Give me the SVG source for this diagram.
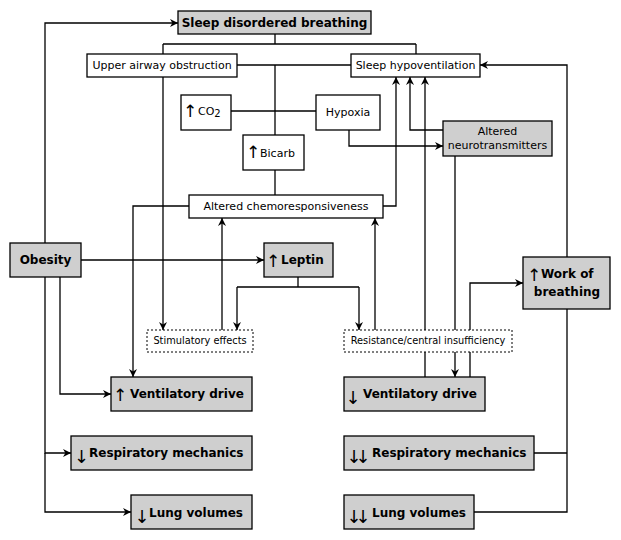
<svg xmlns="http://www.w3.org/2000/svg" width="621" height="540" viewBox="0 0 621 540">
<defs>
<marker id="ah" viewBox="0 0 10 10" refX="10" refY="5" markerWidth="9" markerHeight="8" markerUnits="userSpaceOnUse" orient="auto">
<path d="M0,0 L10,5 L0,10 L3,5 z" fill="#000"/>
</marker>
<style>
.g{fill:#cfcfcf;stroke:#000;stroke-width:1.3}
.w{fill:#fff;stroke:#000;stroke-width:1.3}
.d{fill:#fff;stroke:#000;stroke-width:1;stroke-dasharray:2,2}
.c path{fill:none;stroke:#000;stroke-width:1.3}
.c .a{marker-end:url(#ah)}
text{font-family:"DejaVu Sans",Verdana,sans-serif;fill:#000}
.t{font-size:11px}
.s{font-size:9.8px}
.b{font-size:12px;font-weight:bold}
.ar{font-family:"DejaVu Sans",sans-serif;font-weight:normal;font-size:17px;fill:#000}
.dn{font-size:18px}
</style>
</defs>
<rect width="621" height="540" fill="#fff"/>
<g class="c" id="connectors">
<path class="a" d="M45,243 V23 H178"/>
<path class="a" d="M45,277 V453 H71"/>
<path class="a" d="M45,453 V512 H131"/>
<path class="a" d="M60,277 V394 H111"/>
<path class="a" d="M81,260 H264"/>
<path d="M275,34 V44 M163,44 H416 M163,44 V54 M416,44 V54"/>
<path d="M237,65 H351"/>
<path d="M275,65 V135"/>
<path d="M231,111 H316"/>
<path d="M275,170 V195"/>
<path class="a" d="M383,206 H396 V77"/>
<path class="a" d="M443,130 H410 V77"/>
<path class="a" d="M425,377 V77"/>
<path class="a" d="M349,130 V146 H443"/>
<path class="a" d="M455,156 V377"/>
<path class="a" d="M470,377 V283 H523"/>
<path class="a" d="M567,257 V65 H480"/>
<path d="M534,453 H567 M474,512 H567 V309"/>
<path class="a" d="M189,206 H133 V377"/>
<path class="a" d="M163,77 V330"/>
<path d="M298,277 V287 M237,287 H359"/>
<path class="a" d="M237,287 V330"/>
<path class="a" d="M359,287 V330"/>
<path class="a" d="M222,330 V218"/>
<path class="a" d="M375,330 V218"/>
</g>
<g id="sdb"><rect class="g" x="178" y="11" width="193" height="23"/><text class="b" x="274.5" y="27" text-anchor="middle">Sleep disordered breathing</text></g>
<g id="uao"><rect class="w" x="87" y="54" width="150" height="23"/><text class="t" x="162" y="69" text-anchor="middle">Upper airway obstruction</text></g>
<g id="sh"><rect class="w" x="351" y="54" width="129" height="23"/><text class="t" x="415.5" y="69" text-anchor="middle">Sleep hypoventilation</text></g>
<g id="co2"><rect class="w" x="181" y="95" width="50" height="35"/><text class="t"><tspan class="ar" x="190" y="117" text-anchor="middle">↑</tspan><tspan x="198" y="115">CO</tspan><tspan y="117" font-size="10">2</tspan></text></g>
<g id="hypoxia"><rect class="w" x="316" y="95" width="64" height="35"/><text class="t" x="348" y="116" text-anchor="middle">Hypoxia</text></g>
<g id="bicarb"><rect class="w" x="243" y="135" width="61" height="35"/><text class="t"><tspan class="ar" x="253" y="158" text-anchor="middle">↑</tspan><tspan x="260" y="157">Bicarb</tspan></text></g>
<g id="an"><rect class="g" x="443" y="121" width="109" height="35"/><text class="t" x="497.5" y="135" text-anchor="middle">Altered</text><text class="t" x="497.5" y="149" text-anchor="middle">neurotransmitters</text></g>
<g id="acr"><rect class="w" x="189" y="195" width="194" height="23"/><text class="t" x="286" y="210" text-anchor="middle">Altered chemoresponsiveness</text></g>
<g id="obesity"><rect class="g" x="10" y="243" width="71" height="34"/><text class="b" x="45.5" y="264" text-anchor="middle">Obesity</text></g>
<g id="leptin"><rect class="g" x="264" y="243" width="69" height="34"/><text class="b"><tspan class="ar" x="273" y="267" text-anchor="middle">↑</tspan><tspan x="281" y="264">Leptin</tspan></text></g>
<g id="wob"><rect class="g" x="523" y="257" width="87" height="52"/><text class="b"><tspan class="ar" x="534" y="281" text-anchor="middle">↑</tspan><tspan x="541" y="278">Work of</tspan></text><text class="b" x="567" y="296" text-anchor="middle">breathing</text></g>
<g id="stim"><rect class="d" x="147" y="330" width="106" height="22"/><text class="s" x="200" y="344" text-anchor="middle">Stimulatory effects</text></g>
<g id="resist"><rect class="d" x="344" y="330" width="168" height="22"/><text class="s" x="428" y="344" text-anchor="middle">Resistance/central insufficiency</text></g>
<g id="vd-up"><rect class="g" x="111" y="377" width="141" height="34"/><text class="b"><tspan class="ar" x="120" y="401" text-anchor="middle">↑</tspan><tspan x="130" y="398">Ventilatory drive</tspan></text></g>
<g id="rm-down"><rect class="g" x="71" y="436" width="181" height="34"/><text class="b"><tspan class="ar dn" x="81.5" y="463" text-anchor="middle">↓</tspan><tspan x="89" y="457">Respiratory mechanics</tspan></text></g>
<g id="lv-down"><rect class="g" x="131" y="495" width="121" height="34"/><text class="b"><tspan class="ar dn" x="142" y="523" text-anchor="middle">↓</tspan><tspan x="149" y="517">Lung volumes</tspan></text></g>
<g id="vd-down"><rect class="g" x="344" y="377" width="141" height="34"/><text class="b"><tspan class="ar dn" x="353" y="404" text-anchor="middle">↓</tspan><tspan x="363" y="398">Ventilatory drive</tspan></text></g>
<g id="rm-down2"><rect class="g" x="344" y="436" width="190" height="34"/><text class="b"><tspan class="ar dn" x="346.5" y="463" letter-spacing="-6">↓↓</tspan><tspan x="372" y="457">Respiratory mechanics</tspan></text></g>
<g id="lv-down2"><rect class="g" x="344" y="495" width="130" height="34"/><text class="b"><tspan class="ar dn" x="346.5" y="523" letter-spacing="-6">↓↓</tspan><tspan x="372" y="517">Lung volumes</tspan></text></g>
</svg>
